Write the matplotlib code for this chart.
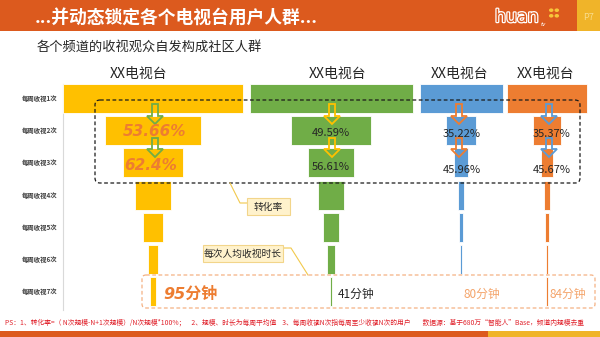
import numpy as np
import matplotlib
matplotlib.use("Agg")
import matplotlib.pyplot as plt
from matplotlib.patches import Rectangle, FancyBboxPatch, Polygon, Ellipse
import matplotlib.patheffects as pe

plt.rcParams['font.family'] = ['Noto Sans CJK SC', 'DejaVu Sans']

# ---- data ----
channel_names = ["XX电视台", "XX电视台", "XX电视台", "XX电视台"]
row_labels = ["每周收视1次", "每周收视2次", "每周收视3次", "每周收视4次",
              "每周收视5次", "每周收视6次", "每周收视7次"]
# audience size of "watched at least once a week" (relative width units)
top_size = [180, 163, 83, 80]
# step-to-step retention (%) from N times to N+1 times per week
rates_ch1 = [53.66, 62.4, 59.7, 58.3, 52.4, 45.5]
rates_ch2 = [49.59, 56.61, 59.0, 59.3, 56.0, 24.0]
rates_ch3 = [35.22, 45.96, 48.0, 62.0, 50.0, 50.0]
rates_ch4 = [35.37, 45.67, 42.0, 68.0, 42.0, 66.0]
watch_minutes = [95, 41, 80, 84]

channel_colors = ['#FFC000', '#70AD47', '#5B9BD5', '#ED7D31']
arrow_colors = ['#70AD47', '#FFC000', '#ED7D31', '#5B9BD5']
centers = [153, 331, 461, 547]
title_x = [139, 338, 460, 546]

ORANGE = '#DC5A1E'
GOLD = '#F0B429'
ITALIC_FONTS = ['DejaVu Sans', 'Noto Sans CJK SC']

fig = plt.figure(figsize=(6, 3.37), dpi=100)
ax = fig.add_axes([0, 0, 1, 1])
ax.set_xlim(0, 600)
ax.set_ylim(337, 0)
ax.axis('off')

# header band
ax.add_patch(Rectangle((0, 0), 577, 31, color=ORANGE, lw=0))
ax.add_patch(Rectangle((577, 0), 23, 31, color=GOLD, lw=0))
ax.text(35, 18, "...并动态锁定各个电视台用户人群...", color='white',
        fontsize=12.8, fontweight='bold', va='center', ha='left')
ax.text(588, 17, "P7", color='#F8DC8C', fontsize=6.5, va='center', ha='center')
ax.text(495, 17, "huan", color=ORANGE, fontsize=12.5, va='center', ha='left',
        family='DejaVu Sans',
        path_effects=[pe.withStroke(linewidth=1.8, foreground='white')])
ax.text(541, 25, "tv", color='white', fontsize=4, va='center', ha='left',
        style='italic', family='DejaVu Sans')
for dx, dy in [(-2.8, -2.8), (2.8, -2.8), (-2.8, 2.8), (2.8, 2.8)]:
    ax.add_patch(Ellipse((554 + dx, 13 + dy), 4.5, 3.6,
                         color='#F7C43A', lw=0))

# footer band and note
ax.add_patch(Rectangle((0, 331), 488, 6, color=ORANGE, lw=0))
ax.add_patch(Rectangle((488, 331), 112, 6, color=GOLD, lw=0))
note = ("PS：1、转化率=（ N次规模-N+1次规模）/N次规模*100%；    2、规模、时长为每周平均值    "
        "3、每周收视N次指每周至少收视N次的用户        数据源：基于680万“智能人”Base，频道内规模去重")
ax.text(5, 323, note, color='#E0202A', fontsize=4.9, va='center', ha='left')

# subtitle
ax.text(37, 47, "各个频道的收视观众自发构成社区人群", color='#262626',
        fontsize=9.5, va='center', ha='left')

# funnel rows
row_y = 98.5 + 32.2 * np.arange(len(row_labels))
for y, lab in zip(row_y, row_labels):
    ax.text(40, y, lab, fontsize=4.6, color='#404040', fontweight='bold',
            va='center', ha='center')
ax.plot([63, 63], [84, 310], color='#D9D9D9', lw=0.8)

all_rates = [rates_ch1, rates_ch2, rates_ch3, rates_ch4]
for i, (size, rates) in enumerate(zip(top_size, all_rates)):
    widths = size * np.concatenate([[1.0], np.cumprod(np.array(rates) / 100.0)])
    ax.barh(row_y, widths, left=centers[i] - widths / 2, height=29,
            color=channel_colors[i], edgecolor='white', linewidth=0.6, zorder=2)
    ax.text(title_x[i], 74, channel_names[i], fontsize=10, color='#262626',
            va='center', ha='center')


def hollow_arrow(cx, y0, y1, color):
    sw, hw, hl = 3.0, 8.0, 8.0
    pts = [(cx - sw, y0), (cx + sw, y0), (cx + sw, y1 - hl), (cx + hw, y1 - hl),
           (cx, y1), (cx - hw, y1 - hl), (cx - sw, y1 - hl)]
    ax.add_patch(Polygon(pts, closed=True, fill=False, edgecolor=color,
                         lw=1.3, zorder=4))


arrow_x = [155, 332, 459, 549]
for i in range(4):
    hollow_arrow(arrow_x[i], 104, 124, arrow_colors[i])
    hollow_arrow(arrow_x[i], 138, 157, arrow_colors[i])

# conversion labels
ax.text(155, 132, f"{rates_ch1[0]:.2f}%", fontsize=11, fontweight='bold',
        style='oblique', family=ITALIC_FONTS, color='#ED7D31',
        va='center', ha='center', zorder=5)
ax.text(151, 166, f"{rates_ch1[1]:.1f}%", fontsize=11, fontweight='bold',
        style='oblique', family=ITALIC_FONTS, color='#ED7D31',
        va='center', ha='center', zorder=5)
label_pos = [(331, 133, 167), (462, 134, 170), (552, 134, 170)]
for (x, ya, yb), rates in zip(label_pos, all_rates[1:]):
    ax.text(x, ya, f"{rates[0]:.2f}%", fontsize=8, color='#262626',
            va='center', ha='center', zorder=5)
    ax.text(x, yb, f"{rates[1]:.2f}%", fontsize=8, color='#262626',
            va='center', ha='center', zorder=5)

# dashed frame around conversion rows
ax.add_patch(FancyBboxPatch((95, 100), 485, 83,
                            boxstyle="round,pad=0,rounding_size=5",
                            fill=False, edgecolor='#1a1a1a', lw=0.9,
                            linestyle=(0, (3, 2)), zorder=3))

# callout: conversion rate
ax.plot([230, 240, 247], [183, 203, 203], color='#F2C94C', lw=0.8, zorder=3)
ax.add_patch(Rectangle((247, 198), 43, 17, facecolor='#FFF2CC',
                       edgecolor='#F2D58A', lw=0.8, zorder=4))
ax.text(268.5, 206.5, "转化率", fontsize=7, color='#262626',
        va='center', ha='center', zorder=5)

# callout: minutes per viewing
ax.plot([284, 291, 308], [248, 248, 275], color='#F2C94C', lw=0.8, zorder=3)
ax.add_patch(Rectangle((203, 245), 80, 17, facecolor='#FFF2CC',
                       edgecolor='#F2D58A', lw=0.8, zorder=4))
ax.text(243, 253.5, "每次人均收视时长", fontsize=7, color='#262626',
        va='center', ha='center', zorder=5)

# dashed frame around watch-time row
ax.add_patch(FancyBboxPatch((142, 275), 453, 33,
                            boxstyle="round,pad=0,rounding_size=4",
                            fill=False, edgecolor='#F4B183', lw=0.9,
                            linestyle=(0, (3, 2)), zorder=3))

minute_x = [163, 338, 464, 550]
ax.text(minute_x[0], 294, f"{watch_minutes[0]}分钟", fontsize=11.5,
        fontweight='bold', style='oblique', family=ITALIC_FONTS,
        color='#ED7D31', va='center', ha='left', zorder=5)
ax.text(minute_x[1], 294, f"{watch_minutes[1]}分钟", fontsize=8.5,
        color='#262626', va='center', ha='left', zorder=5)
for k in (2, 3):
    ax.text(minute_x[k], 294, f"{watch_minutes[k]}分钟", fontsize=8.5,
            color='#F4A46A', va='center', ha='left', zorder=5)

fig.savefig("out.png", dpi=100)
